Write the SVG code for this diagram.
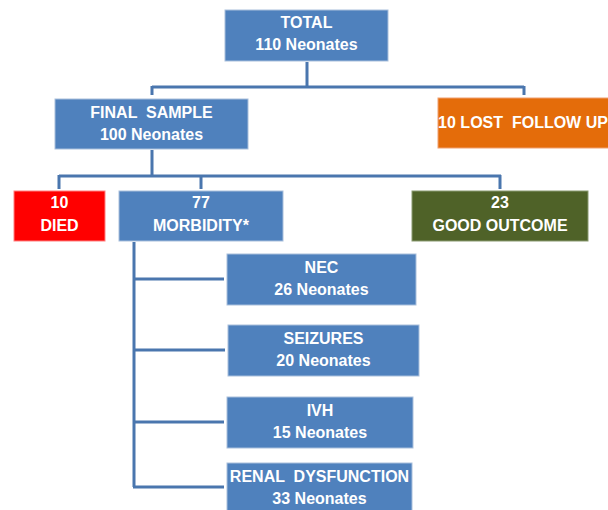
<svg xmlns="http://www.w3.org/2000/svg" width="608" height="510" viewBox="0 0 608 510">
<style>
.box{stroke:#a9bfdc;stroke-width:1}
.blue{fill:#4f81bd}
.orange{fill:#e46c0a;stroke:#f0a070}
.red{fill:#ff0000;stroke:#ff8080}
.green{fill:#4f6228;stroke:#8a9a70}
text{font-family:"Liberation Sans",Arial,sans-serif;font-weight:bold;font-size:16px;fill:#ffffff;text-anchor:middle;white-space:pre}
.conn{fill:none;stroke:#4a76ae;stroke-width:3}
</style>
<rect width="608" height="510" fill="#ffffff"/>
<g id="connectors" class="conn">
<path d="M307 62 V87 M152 87 H524 M152 86 V95 M524 86 V95"/>
<path d="M152 150 V176 M59 176 H501 M59 175 V189 M201 175 V189 M500 175 V189"/>
<path d="M134 242 V487 M133 279 H224 M133 350 H225 M133 422 H224 M133 487 H224"/>
</g>
<g id="total"><rect class="box blue" x="225" y="10" width="163" height="51"/><text x="306.5" y="28">TOTAL</text><text x="306.5" y="50">110 Neonates</text></g>
<g id="final"><rect class="box blue" x="55" y="99" width="193" height="50"/><text x="151.5" y="118" xml:space="preserve">FINAL  SAMPLE</text><text x="151.5" y="140">100 Neonates</text></g>
<g id="lost"><rect class="box orange" x="438" y="98" width="175" height="50"/><text x="523" y="128" xml:space="preserve">10 LOST  FOLLOW UP</text></g>
<g id="died"><rect class="box red" x="14" y="191" width="91" height="50"/><text x="59.5" y="208">10</text><text x="59.5" y="231">DIED</text></g>
<g id="morbidity"><rect class="box blue" x="119" y="191" width="164" height="50"/><text x="201" y="208">77</text><text x="201" y="231">MORBIDITY*</text></g>
<g id="good"><rect class="box green" x="412" y="191" width="176" height="50"/><text x="500" y="208">23</text><text x="500" y="231">GOOD OUTCOME</text></g>
<g id="nec"><rect class="box blue" x="227" y="254" width="189" height="51"/><text x="321.5" y="273">NEC</text><text x="321.5" y="295">26 Neonates</text></g>
<g id="seizures"><rect class="box blue" x="228" y="325" width="191" height="51"/><text x="323.5" y="344">SEIZURES</text><text x="323.5" y="366">20 Neonates</text></g>
<g id="ivh"><rect class="box blue" x="227" y="397" width="186" height="51"/><text x="320" y="416">IVH</text><text x="320" y="438">15 Neonates</text></g>
<g id="renal"><rect class="box blue" x="227" y="463" width="185" height="52"/><text x="319.5" y="482" xml:space="preserve">RENAL  DYSFUNCTION</text><text x="319.5" y="504">33 Neonates</text></g>
</svg>
